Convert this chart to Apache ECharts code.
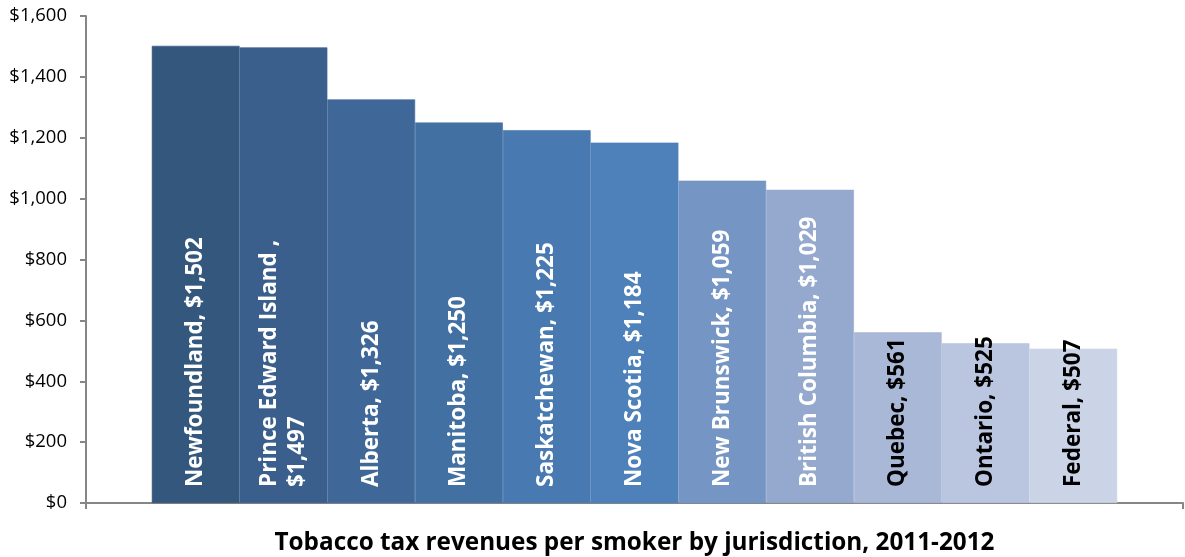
<!DOCTYPE html>
<html>
<head>
<meta charset="utf-8">
<script src="https://cdn.jsdelivr.net/npm/echarts@6/dist/echarts.min.js"></script>
<style>
html,body{margin:0;padding:0;background:#fff;}
#main{width:1185px;height:557px;}
</style>
</head>
<body>
<div id="main"></div>
<script>
const jurisdictions = ['Newfoundland', 'Prince Edward Island ', 'Alberta', 'Manitoba', 'Saskatchewan', 'Nova Scotia', 'New Brunswick', 'British Columbia', 'Quebec', 'Ontario', 'Federal'];
const revenues = [1502, 1497, 1326, 1250, 1225, 1184, 1059, 1029, 561, 525, 507];
const yTicks = {min: 0, max: 1600, interval: 200};
const axisTitle = 'Tobacco tax revenues per smoker by jurisdiction, 2011-2012';

const palette = ['#34577E', '#3A5F8C', '#3F6899', '#4370A2', '#4879B0', '#4E81BA', '#7596C4', '#95A9CF', '#A9B8D7', '#BAC6E0', '#CBD4E6'];
const labelColors = ['#fff','#fff','#fff','#fff','#fff','#fff','#fff','#fff','#000','#000','#000'];

function money(v){ return '$' + v.toLocaleString('en-US'); }

const series = jurisdictions.map((name, i) => ({
  type: 'bar',
  name: name,
  data: [revenues[i]],
  barGap: '0%',
  barCategoryGap: '12%',
  itemStyle: {color: palette[i], borderColor: palette[i], borderWidth: 0.6},
  label: {
    show: true,
    position: 'insideBottom',
    distance: 16,
    rotate: 90,
    align: 'left',
    verticalAlign: 'middle',
    color: labelColors[i],
    fontFamily: 'Open Sans',
    fontWeight: 'bold',
    fontSize: 22.5,
    lineHeight: 28,
    formatter: (p) => name === 'Prince Edward Island ' ? name + ',\n' + money(p.value) : name + ', ' + money(p.value)
  }
}));

const chart = echarts.init(document.getElementById('main'));
chart.setOption({
  animation: false,
  grid: {left: 86, right: 2, top: 16, bottom: 54, containLabel: false, outerBoundsMode: 'none'},
  xAxis: {
    type: 'category',
    data: [''],
    boundaryGap: true,
    name: axisTitle,
    nameLocation: 'middle',
    nameGap: 28,
    nameTextStyle: {fontFamily: 'Open Sans', fontWeight: 'bold', fontSize: 24.3, color: '#000'},
    axisLine: {lineStyle: {color: '#868686', width: 2}},
    axisTick: {show: true, length: 6, lineStyle: {color: '#868686', width: 2}},
    axisLabel: {show: false}
  },
  yAxis: {
    type: 'value',
    min: yTicks.min,
    max: yTicks.max,
    interval: yTicks.interval,
    axisLine: {show: true, lineStyle: {color: '#868686', width: 2}},
    axisTick: {show: true, length: 6, lineStyle: {color: '#868686', width: 2}},
    splitLine: {show: false},
    axisLabel: {fontFamily: 'Open Sans', fontSize: 18.5, color: '#000', margin: 19, formatter: money}
  },
  series: series
});
</script>
</body>
</html>
